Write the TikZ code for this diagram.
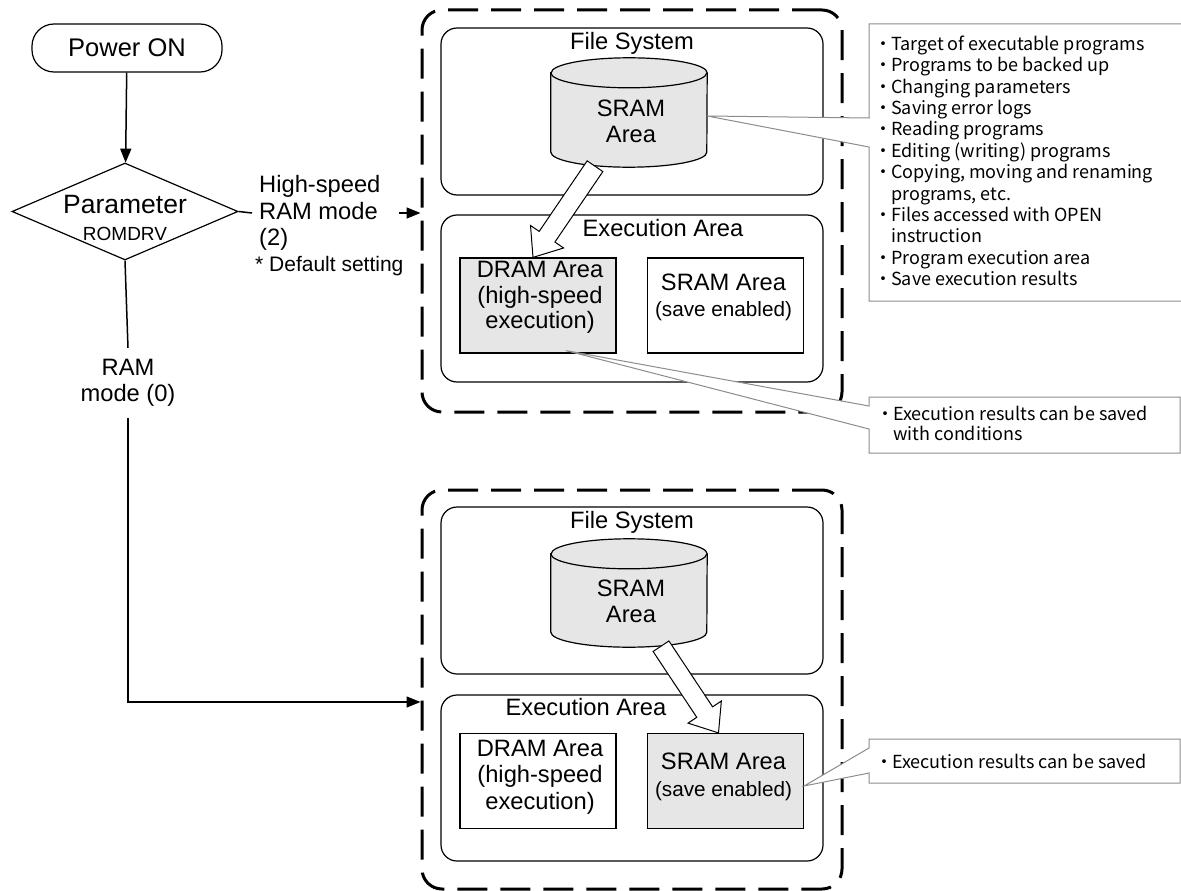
\documentclass[tikz,border=0pt]{standalone}
\usepackage{fontspec}
\setmainfont{Liberation Sans}
\newfontfamily\jpfont{Noto Sans CJK JP}
\usepackage{xcolor}
\definecolor{cFill}{HTML}{E6E6E6}
\definecolor{cNote}{HTML}{8C8C8C}
\usetikzlibrary{positioning,arrows.meta,shapes.geometric,calc}
\newcommand{\fsmain}{\fontsize{23.7}{26.5}\selectfont}
\newcommand{\fssmall}{\fontsize{20.7}{25}\selectfont}
\newcommand{\fsnote}{\jpfont\fontsize{18}{21.4}\selectfont}
\newcommand{\notedot}{\makebox[16pt][c]{・}}
\newcommand{\noteind}{\hspace*{16pt}}
% cylinder outline round an empty node
\newcommand{\drawcyl}[1]{%
  \draw[line width=1.2pt,fill=cFill] ([yshift=-15pt]#1.north west) -- ([yshift=15pt]#1.south west)
    arc[start angle=180,end angle=360,x radius=78pt,y radius=15pt]
    -- ([yshift=-15pt]#1.north east)
    arc[start angle=0,end angle=180,x radius=78pt,y radius=15pt] -- cycle;
  \draw[line width=1.2pt] ([yshift=-15pt]#1.north west)
    arc[start angle=180,end angle=360,x radius=78pt,y radius=15pt];}
% hollow block arrow: #1 start, #2 tip
\newcommand{\copyarrow}[2]{%
  \coordinate (ca-neck) at ($(#2)!25pt!(#1)$);
  \draw[copy-arrow] ($(#1)!9.5pt!90:(#2)$) -- ($(ca-neck)!9.5pt!90:(#2)$)
    -- ($(ca-neck)!20pt!90:(#2)$) -- (#2) -- ($(ca-neck)!20pt!-90:(#2)$)
    -- ($(ca-neck)!9.5pt!-90:(#2)$) -- ($(#1)!9.5pt!-90:(#2)$) -- cycle;}
\tikzset{
  flow-line/.style={line width=1.5pt},
  flow-arrow/.style={flow-line,-{Triangle[length=14pt,width=11pt]}},
  start-box/.style={draw,line width=1.2pt,rounded corners=22pt,minimum width=190pt,
    minimum height=48pt,font=\fontsize{25.5}{30}\selectfont},
  decision/.style={draw,line width=1.2pt,diamond,minimum width=226pt,minimum height=97pt,inner sep=0pt},
  mode-frame/.style={draw,line width=3pt,dash pattern=on 30pt off 13pt,rounded corners=20pt,
    minimum width=420pt},
  area-box/.style={draw,line width=1.2pt,rounded corners=16pt,minimum width=382pt},
  mem-box/.style={draw,line width=1.2pt,minimum width=156pt,minimum height=95pt},
  mem-used/.style={fill=cFill},
  cyl-box/.style={minimum width=156pt,inner sep=0pt},
  txt/.style={font=\fsmain,align=center,inner sep=0pt},
  note-box/.style={draw=cNote,line width=1pt,fill=white},
  note-txt/.style={font=\fsnote,align=left,inner sep=0pt,anchor=north west},
  copy-arrow/.style={draw,line width=1pt,fill=white},
}

\begin{document}
\begin{tikzpicture}[x=1pt,y=-1pt]
  \useasboundingbox (0,0) rectangle (1181,891);

  % flow on the left
  \node[start-box] (pwr) at (127,48) {Power ON};
  \node[decision] (dia) at (125,211.5) {};
  \node[txt] (diatxt) at (125,218) {{\fontsize{26.5}{28}\selectfont Parameter}\\{\fontsize{19}{28}\selectfont ROMDRV}};
  \node[txt,align=left,anchor=west,inner xsep=7pt] (hslbl) at (252,213) {High-speed\\RAM mode\\(2)};
  \node[txt,font=\fontsize{21}{25}\selectfont,anchor=west] (deflbl) at (255,266) {* Default setting};
  \node[txt,inner ysep=11pt] (ramlbl) at (128,383) {RAM\\mode (0)};

  % high-speed RAM mode
  \node[mode-frame,minimum height=402pt] (topframe) at (632,211) {};
  \node[area-box,minimum height=167pt] (fs1) at (632,111.5) {};
  \node[txt] (fs1t) at (632,43) {File System};
  \node[cyl-box,minimum height=109pt] (cyl1) at (629,112.5) {};
  \drawcyl{cyl1}
  \node[txt] (cyl1txt) at (631,121.5) {SRAM\\Area};
  \node[area-box,minimum height=167pt] (ex1) at (632,298.5) {};
  \node[txt] (ex1t) at (663,228) {Execution Area};
  \node[mem-box,mem-used] (dram1) at (538,305.5) {};
  \node[txt,font=\fontsize{23.7}{25.5}\selectfont] (dram1txt) at (540,297.5) {DRAM Area\\(high-speed\\execution)};
  \node[mem-box] (sram1) at (725.5,305.5) {};
  \node[txt] (sram1txt) at (723.5,297.5) {SRAM Area\\{\fssmall(save enabled)}};
  \copyarrow{[xshift=-34pt,yshift=1pt]cyl1.south}{[xshift=-5pt]dram1.north}

  % RAM mode
  \node[mode-frame,minimum height=399pt] (lowframe) at (632,689.5) {};
  \node[area-box,minimum height=167pt] (fs2) at (632,590.5) {};
  \node[txt] (fs2t) at (632,522) {File System};
  \node[cyl-box,minimum height=108pt] (cyl2) at (629,593) {};
  \drawcyl{cyl2}
  \node[txt] (cyl2txt) at (631,601.5) {SRAM\\Area};
  \node[area-box,minimum height=166pt] (ex2) at (632,778) {};
  \node[txt] (ex2t) at (586,707) {Execution Area};
  \node[mem-box] (dram2) at (538,781) {};
  \node[txt,font=\fontsize{23.7}{26.5}\selectfont] (dram2txt) at (540,777) {DRAM Area\\(high-speed\\execution)};
  \node[mem-box,mem-used] (sram2) at (725.5,781) {};
  \node[txt] (sram2txt) at (723.5,777) {SRAM Area\\{\fssmall(save enabled)}};
  \copyarrow{[xshift=32pt,yshift=1pt]cyl2.south}{[xshift=-7pt]sram2.north}

  % connectors
  \draw[flow-arrow] (pwr) -- (dia);
  \draw[flow-line] (dia.east) -- (hslbl.west);
  \draw[flow-arrow] ([xshift=11pt]hslbl.east) -- (hslbl.east -| topframe.west);
  \draw[flow-line] (dia.south) -- (ramlbl.north);
  \draw[flow-arrow] (ramlbl.south) |- ([yshift=-12.5pt]lowframe.west);

  % callouts
  \coordinate (n1p) at ([yshift=-3.5pt]cyl1.east);
  \draw[note-box] (n1p) -- (869,118) -- (869,24) -- (1190,24) -- (1190,301) -- (869,301) -- (869,147) -- cycle;
  \node[note-txt] (note1) at (875,35.5) {\notedot Target of executable programs\\
    \notedot Programs to be backed up\\
    \notedot Changing parameters\\
    \notedot Saving error logs\\
    \notedot Reading programs\\
    \notedot Editing (writing) programs\\
    \notedot Copying, moving and renaming\\
    \noteind programs, etc.\\
    \notedot Files accessed with OPEN\\
    \noteind instruction\\
    \notedot Program execution area\\
    \notedot Save execution results};
  \coordinate (n2p) at ([xshift=28pt,yshift=3pt]dram1.south);
  \draw[note-box] (n2p) -- (869,406) -- (869,397) -- (1180,397) -- (1180,453) -- (869,453) -- (869,429) -- cycle;
  \node[note-txt,font=\jpfont\fontsize{18}{20}\selectfont] (note2) at (877,405.5) {\notedot Execution results can be saved\\
    \noteind with conditions};
  \coordinate (n3p) at ([yshift=-5pt]sram2.east);
  \draw[note-box] (n3p) -- (869,748) -- (869,739) -- (1180,739) -- (1180,783) -- (869,783) -- (869,773) -- cycle;
  \node[note-txt] (note3) at (876,753.5) {\notedot Execution results can be saved};
\end{tikzpicture}
\end{document}
